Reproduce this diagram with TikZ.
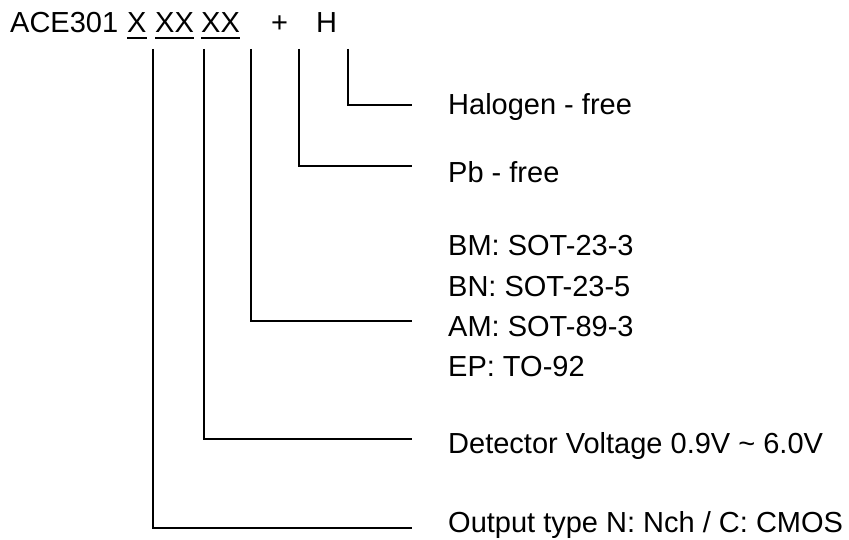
\documentclass[tikz,border=0pt]{standalone}
\usepackage{fontspec}
\setmainfont{Liberation Sans}
\usepackage{tikz}
\newcommand{\partfont}{\fontsize{29}{34}\selectfont}

\begin{document}
\begin{tikzpicture}[x=1pt, y=-1pt,
  code/.style={anchor=base west, inner sep=0pt, font=\partfont},
  lbl/.style={anchor=base west, inner sep=0pt, font=\partfont},
  uline/.style={line width=1.7pt},
  leader/.style={line width=1.6pt},
]
  \useasboundingbox (0,0) rectangle (849,540);

  % ---- Part number ----
  \node[code] (ace) at (10,33) {ACE301};
  \node[code] (typ) at (127,33) {X};
  \node[code] (volt) at (155,33) {XX};
  \node[code] (pkg) at (201,33) {XX};
  \node[code] (plus) at (271,33) {+};
  \node[code] (hal) at (316,33) {H};

  \draw[uline] ([yshift=-5pt]typ.south west) -- ([yshift=-5pt]typ.south east);
  \draw[uline] ([yshift=-5pt]volt.south west) -- ([yshift=-5pt]volt.south east);
  \draw[uline] ([yshift=-5pt]pkg.south west) -- ([yshift=-5pt]pkg.south east);

  % ---- Descriptions ----
  \node[lbl] (halfree) at (448,115) {Halogen - free};
  \node[lbl] (pbfree) at (448,183) {Pb - free};
  \node[lbl] (bm) at (448,256) {BM: SOT-23-3};
  \node[lbl] (bn) at (448,296) {BN: SOT-23-5};
  \node[lbl] (am) at (448,336) {AM: SOT-89-3};
  \node[lbl] (ep) at (448,376) {EP: TO-92};
  \node[lbl] (det) at (448,453) {Detector Voltage 0.9V \textasciitilde{} 6.0V};
  \node[lbl] (outp) at (448,532) {Output type N: Nch / C: CMOS};

  % ---- Leader lines ----
  \coordinate (h0) at (348,49);  \coordinate (h1) at (412,105);
  \coordinate (p0) at (299,49);  \coordinate (p1) at (412,166);
  \coordinate (k0) at (251,49);  \coordinate (k1) at (412,321);
  \coordinate (v0) at (204,49);  \coordinate (v1) at (412,439);
  \coordinate (t0) at (153,49);  \coordinate (t1) at (412,528);

  \draw[leader] (h0) |- (h1);
  \draw[leader] (p0) |- (p1);
  \draw[leader] (k0) |- (k1);
  \draw[leader] (v0) |- (v1);
  \draw[leader] (t0) |- (t1);
\end{tikzpicture}
\end{document}
